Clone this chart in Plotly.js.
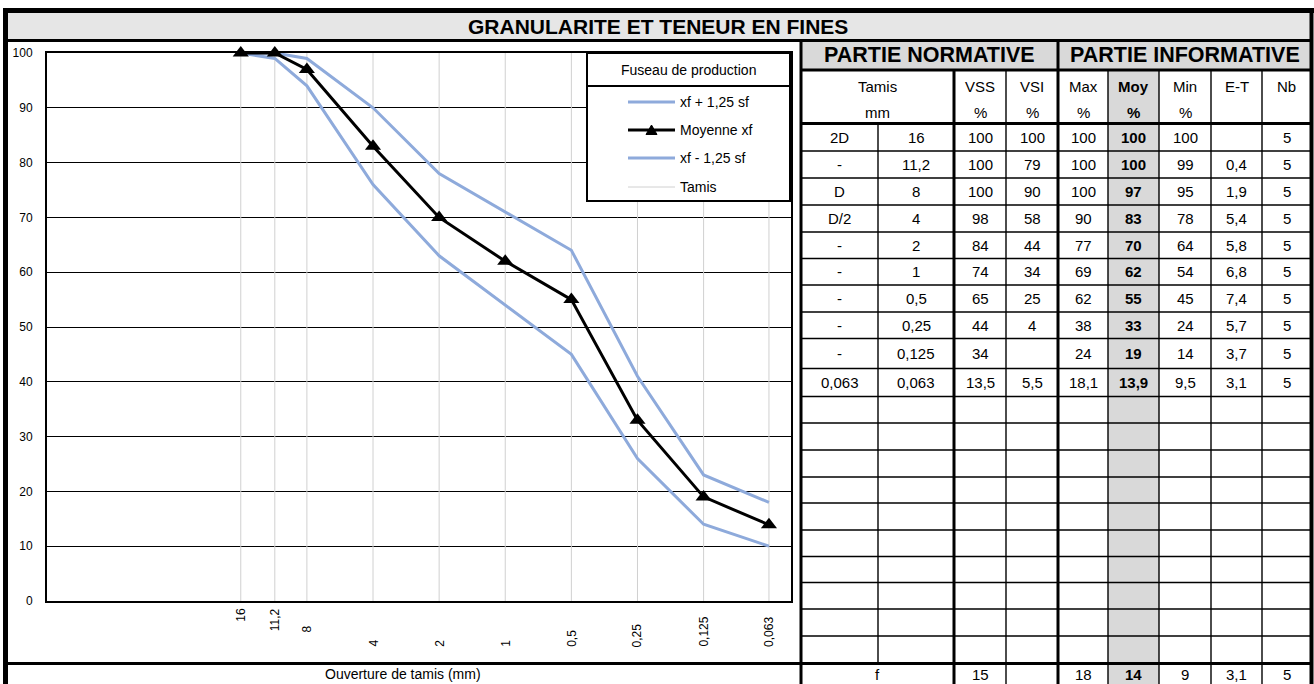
<!DOCTYPE html>
<html>
<head>
<meta charset="utf-8">
<script src="https://cdn.plot.ly/plotly-3.0.1.min.js"></script>
<style>html,body{margin:0;padding:0;background:#fff;}#chart{width:1314px;height:684px;}</style>
</head>
<body>
<div id="chart"></div>
<script>
// ---------------- DATA ----------------
const sieves = [16, 11.2, 8, 4, 2, 1, 0.5, 0.25, 0.125, 0.063];
const sieveLabels = ['16', '11,2', '8', '4', '2', '1', '0,5', '0,25', '0,125', '0,063'];
const upperXf = [100, 100, 99, 90, 78, 71, 64, 41, 23, 18];      // xf + 1,25 sf
const meanXf = [100, 100, 97, 83, 70, 62, 55, 33, 19, 13.9];     // Moyenne xf
const lowerXf = [100, 99, 94, 76, 63, 54, 45, 26, 14, 10];       // xf - 1,25 sf
const seriesNames = ['xf + 1,25 sf', 'Moyenne xf', 'xf - 1,25 sf', 'Tamis'];

const rowNames = ['2D', '-', 'D', 'D/2', '-', '-', '-', '-', '-', '0,063'];
const vssVals = [100, 100, 100, 98, 84, 74, 65, 44, 34, 13.5];
const vsiVals = [100, 79, 90, 58, 44, 34, 25, 4, null, 5.5];
const maxVals = [100, 100, 100, 90, 77, 69, 62, 38, 24, 18.1];
const moyVals = [100, 100, 97, 83, 70, 62, 55, 33, 19, 13.9];
const minVals = [100, 99, 95, 78, 64, 54, 45, 24, 14, 9.5];
const etVals = [null, 0.4, 1.9, 5.4, 5.8, 6.8, 7.4, 5.7, 3.7, 3.1];
const nbVals = [5, 5, 5, 5, 5, 5, 5, 5, 5, 5];
const footerLabel = 'f';
const footerVals = [15, null, 18, 14, 9, 3.1, 5];   // VSS, VSI, Max, Moy, Min, E-T, Nb

const headerTop = ['Tamis', 'VSS', 'VSI', 'Max', 'Moy', 'Min', 'E-T', 'Nb'];
const headerBottom = ['mm', '%', '%', '%', '%', '%', '', ''];
const mainTitle = 'GRANULARITE ET TENEUR EN FINES';
const partA = 'PARTIE NORMATIVE';
const partB = 'PARTIE INFORMATIVE';
const legendTitle = 'Fuseau de production';
const xTitle = 'Ouverture de tamis (mm)';

// ---------------- GEOMETRY / STYLE ----------------
const FONT = 'Arial, "Liberation Sans", sans-serif';
const L = 47, R = 791, T = 53, B = 601;
const X = px => (px - L) / (R - L);
const Y = py => (B - py) / (B - T);
const fr = v => (v === null || v === undefined) ? '' : String(v).replace('.', ',');

const colX = [801, 878, 954, 1006, 1058, 1108, 1159, 1211, 1262, 1311];
const rowY = [123.5, 151, 178, 205, 232, 258.5, 285, 312, 338.5, 368.5, 396.5,
              423, 450, 477, 503, 530, 556.5, 582.5, 609, 636, 663.5];
const BLUE = '#8eaadb';

const shapes = [];
const anns = [];
function rect(x0, y0, x1, y1, fill, line) {
  shapes.push({type: 'rect', xref: 'paper', yref: 'paper', x0: X(x0), x1: X(x1), y0: Y(y0), y1: Y(y1),
    fillcolor: fill, line: line || {width: 0}, layer: 'above'});
}
function hline(x0, x1, y, w, c) {
  shapes.push({type: 'line', xref: 'paper', yref: 'paper', x0: X(x0), x1: X(x1), y0: Y(y), y1: Y(y),
    line: {color: c || 'black', width: w}, layer: 'above'});
}
function vline(x, y0, y1, w, c) {
  shapes.push({type: 'line', xref: 'paper', yref: 'paper', x0: X(x), x1: X(x), y0: Y(y0), y1: Y(y1),
    line: {color: c || 'black', width: w}, layer: 'above'});
}
function txt(text, x, y, size, bold, xanchor) {
  if (text === '') return;
  anns.push({xref: 'paper', yref: 'paper', x: X(x), y: Y(y), text: bold ? '<b>' + text + '</b>' : text,
    showarrow: false, font: {size: size, color: 'black', family: FONT},
    xanchor: xanchor || 'center', yanchor: 'middle'});
}
const cc = i => (colX[i] + colX[i + 1]) / 2;

// fills
rect(5, 10, 1311, 40, '#e6e6e6');
rect(801, 40, 1311, 70, '#d9d9d9');
rect(colX[5], 70, colX[6], 684, '#d9d9d9');

// table grid
for (let r = 1; r < rowY.length - 1; r++) hline(801, 1311, rowY[r], 1.4);
vline(colX[1], rowY[0], rowY[rowY.length - 1], 1.4);
[3, 5, 6, 7, 8].forEach(i => vline(colX[i], 70, 684, 1.4));
vline(colX[2], 70, 684, 3);
vline(colX[4], 40, 684, 3);
hline(801, 1311, 70, 3);
hline(801, 1311, rowY[0], 3);
hline(5, 1311, 663.5, 3);
// frame
hline(5, 1311, 40.5, 3);
vline(801, 40, 684, 3);
hline(3, 1314, 10.5, 5);
vline(5.5, 8, 690, 5);
vline(1311.5, 8, 690, 4);

// texts
txt(mainTitle, 658, 26, 21, true);
txt(partA, (colX[0] + colX[4]) / 2, 55.5, 21.5, true);
txt(partB, (colX[4] + colX[9]) / 2, 55.5, 21.5, true);
const hdrCenters = [(colX[0] + colX[2]) / 2, cc(2), cc(3), cc(4), cc(5), cc(6), cc(7), cc(8)];
headerTop.forEach((h, i) => txt(h, hdrCenters[i], 86, 15, i === 4));
headerBottom.forEach((h, i) => txt(h, hdrCenters[i], 112, 15, i === 4));
const tableCols = [rowNames, sieveLabels, vssVals, vsiVals, maxVals, moyVals, minVals, etVals, nbVals];
for (let r = 0; r < rowNames.length; r++) {
  const yc = (rowY[r] + rowY[r + 1]) / 2;
  tableCols.forEach((col, c) => {
    const v = c < 2 ? col[r] : fr(col[r]);
    txt(v, cc(c), yc, 15, c === 5);
  });
}
txt(footerLabel, (colX[0] + colX[2]) / 2, 674, 15, false);
footerVals.forEach((v, i) => txt(fr(v), cc(i + 2), 674, 15, i === 3));
txt(xTitle, 403, 674, 14, false);

// x tick labels (rotated)
const labelTop = [607, 607, 624, null, null, null, null, null, null, null];
sieves.forEach((s, i) => {
  const a = {xref: 'x', yref: 'paper', x: Math.log10(s), text: sieveLabels[i], showarrow: false,
    textangle: -90, font: {size: 12, color: 'black', family: FONT}, xanchor: 'center', borderpad: 0};
  if (labelTop[i] !== null) { a.y = Y(labelTop[i]); a.yanchor = 'top'; }
  else { a.y = Y(648); a.yanchor = 'bottom'; }
  anns.push(a);
});

// manual legend
rect(587, 53, 790, 201, 'white', {color: 'black', width: 2});
hline(587, 790, 86, 2);
txt(legendTitle, 688.5, 70, 14, false);
const legY = [102, 130, 158, 187];
const legStyle = [{c: BLUE, w: 3}, {c: 'black', w: 3}, {c: BLUE, w: 3}, {c: '#d0d0d0', w: 1}];
legY.forEach((y, i) => {
  hline(628, 675, y, legStyle[i].w, legStyle[i].c);
  txt(seriesNames[i], 678, y, 14, false, 'left');
});
shapes.push({type: 'path', xref: 'paper', yref: 'paper', layer: 'above',
  path: `M ${X(646)} ${Y(134.5)} L ${X(657)} ${Y(134.5)} L ${X(651.5)} ${Y(125)} Z`,
  fillcolor: 'black', line: {color: 'black', width: 1}});

// ---------------- TRACES ----------------
const tamisX = [], tamisY = [];
sieves.forEach(s => { tamisX.push(s, s, null); tamisY.push(0, 100, null); });

const traces = [
  {x: tamisX, y: tamisY, mode: 'lines', name: seriesNames[3], line: {color: '#d0d0d0', width: 1}, hoverinfo: 'skip'},
  {x: sieves, y: upperXf, mode: 'lines', name: seriesNames[0], line: {color: BLUE, width: 3}},
  {x: sieves, y: lowerXf, mode: 'lines', name: seriesNames[2], line: {color: BLUE, width: 3}},
  {x: sieves, y: meanXf, mode: 'lines+markers', name: seriesNames[1], line: {color: 'black', width: 3},
   marker: {symbol: 'triangle-up', size: 14, color: 'black'}, cliponaxis: false}
];

const layout = {
  width: 1314, height: 684,
  margin: {l: L, r: 1314 - R, t: T, b: 684 - B, pad: 0},
  paper_bgcolor: 'white', plot_bgcolor: 'white',
  showlegend: false,
  font: {family: FONT, color: 'black'},
  xaxis: {type: 'log', range: [Math.log10(122), Math.log10(0.05)], showgrid: false, zeroline: false,
    showticklabels: false, ticks: '', showline: true, mirror: true, linecolor: 'black', linewidth: 2, fixedrange: true},
  yaxis: {range: [0, 100], dtick: 10, showgrid: true, gridcolor: 'black', gridwidth: 1, zeroline: false,
    showline: true, mirror: true, linecolor: 'black', linewidth: 2, ticks: '', ticklabelstandoff: 10,
    tickfont: {size: 12, color: 'black', family: FONT}, fixedrange: true},
  shapes: shapes,
  annotations: anns
};

Plotly.newPlot('chart', traces, layout, {displayModeBar: false, staticPlot: true});
</script>
</body>
</html>
